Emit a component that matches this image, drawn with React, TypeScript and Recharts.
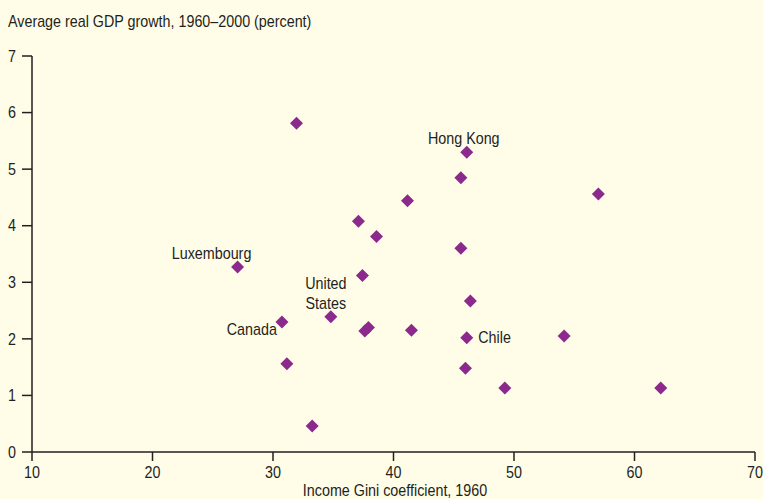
import React from 'react';
import { ScatterChart, Scatter, XAxis, YAxis } from 'recharts';

const giniValues = [31.95, 46.08, 45.59, 57.0, 41.16, 37.09, 38.59, 45.59, 27.06, 37.42, 46.38, 34.8, 30.74, 37.92, 37.62, 41.49, 46.08, 54.16, 31.15, 45.97, 49.24, 62.18, 33.25];
const growthValues = [5.81, 5.3, 4.85, 4.56, 4.44, 4.08, 3.81, 3.6, 3.27, 3.12, 2.67, 2.39, 2.3, 2.2, 2.14, 2.15, 2.02, 2.05, 1.56, 1.48, 1.13, 1.13, 0.46];
const countryNames = ['', 'Hong Kong', '', '', '', '', '', '', 'Luxembourg', '', '', 'United States', 'Canada', '', '', '', 'Chile', '', '', '', '', '', ''];
const xTicks = [10, 20, 30, 40, 50, 60, 70];
const yTicks = [0, 1, 2, 3, 4, 5, 6, 7];
const yTitle = 'Average real GDP growth, 1960\u20132000 (percent)';
const xTitle = 'Income Gini coefficient, 1960';

const data = giniValues.map((g, i) => ({ gini: g, growth: growthValues[i], name: countryNames[i] }));

const FONT = '"Liberation Sans", Arial, sans-serif';
const TEXT = '#231f20';
const PURPLE = '#8b2a8c';
const BG = '#fffde8';
const SQUEEZE = 0.895;

const SText = ({ x, y, anchor, children }: { x: number; y: number; anchor: 'start' | 'middle' | 'end'; children: any }) => (
  <text
    x={0}
    y={0}
    transform={`translate(${x},${y}) scale(${SQUEEZE},1)`}
    textAnchor={anchor}
    fontFamily={FONT}
    fontSize={16}
    fill={TEXT}
  >
    {children}
  </text>
);

const labelStyle: Record<string, { dx: number; anchor: 'start' | 'middle' | 'end'; lines: { text: string; dy: number }[] }> = {
  'Hong Kong': { dx: -3, anchor: 'middle', lines: [{ text: 'Hong Kong', dy: -8 }] },
  Luxembourg: { dx: -26, anchor: 'middle', lines: [{ text: 'Luxembourg', dy: -8 }] },
  'United States': { dx: -5, anchor: 'middle', lines: [{ text: 'United', dy: -27.5 }, { text: 'States', dy: -7.8 }] },
  Canada: { dx: -5, anchor: 'end', lines: [{ text: 'Canada', dy: 13 }] },
  Chile: { dx: 11.5, anchor: 'start', lines: [{ text: 'Chile', dy: 5.6 }] },
};

const DiamondShape = (props: any) => {
  const { cx, cy, payload } = props;
  const r = 6.5;
  const pts = `${cx},${cy - r} ${cx + r},${cy} ${cx},${cy + r} ${cx - r},${cy}`;
  const ls = payload && payload.name ? labelStyle[payload.name] : undefined;
  return (
    <g>
      <polygon points={pts} fill={PURPLE} />
      {ls &&
        ls.lines.map((l, i) => (
          <SText key={i} x={cx + ls.dx} y={cy + l.dy} anchor={ls.anchor}>
            {l.text}
          </SText>
        ))}
    </g>
  );
};

const XTick = (p: any) => (
  <SText x={p.x} y={p.y + 11.4} anchor="middle">
    {p.payload.value}
  </SText>
);

const YTick = (p: any) => (
  <SText x={p.x} y={p.y + 5.7} anchor="end">
    {p.payload.value}
  </SText>
);

export default function App() {
  return (
    <div style={{ position: 'absolute', left: 0, top: 0, width: 763, height: 499, background: BG }}>
      <ScatterChart width={763} height={499} margin={{ top: 56, right: 8, left: 0, bottom: 0 }}>
        <XAxis
          type="number"
          dataKey="gini"
          domain={[10, 70]}
          ticks={xTicks}
          interval={0}
          height={47}
          axisLine={{ stroke: TEXT, strokeWidth: 1.5 }}
          tickLine={{ stroke: TEXT, strokeWidth: 1.5 }}
          tickSize={9}
          tickMargin={6}
          tick={XTick}
          label={{
            content: () => (
              <SText x={395} y={495.5} anchor="middle">
                {xTitle}
              </SText>
            ),
          }}
        />
        <YAxis
          type="number"
          dataKey="growth"
          domain={[0, 7]}
          ticks={yTicks}
          interval={0}
          width={32}
          axisLine={{ stroke: TEXT, strokeWidth: 1.5 }}
          tickLine={{ stroke: TEXT, strokeWidth: 1.5 }}
          tickSize={10}
          tickMargin={6}
          tick={YTick}
          label={{
            content: () => (
              <SText x={8} y={26.5} anchor="start">
                {yTitle}
              </SText>
            ),
          }}
        />
        <Scatter data={data} shape={DiamondShape} isAnimationActive={false} />
      </ScatterChart>
    </div>
  );
}
